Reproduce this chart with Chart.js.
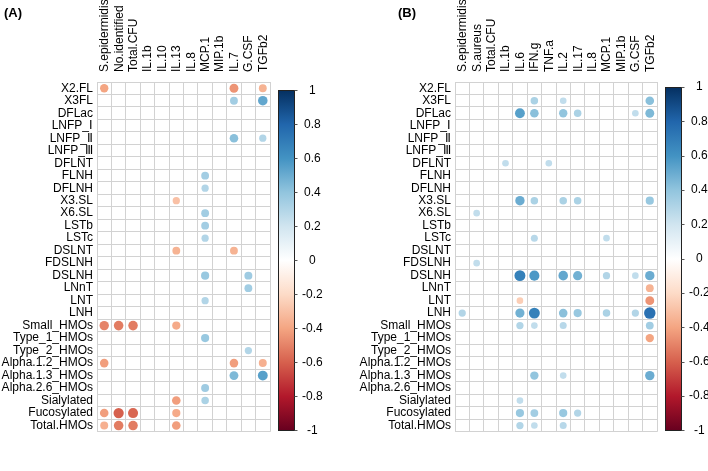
<!DOCTYPE html>
<html>
<head>
<meta charset="utf-8">
<script src="https://cdn.jsdelivr.net/npm/chart.js@4.4.1/dist/chart.umd.min.js"></script>
<style>
  body { margin: 0; background: #fff; }
  #wrap { position: relative; width: 708px; height: 471px; overflow: hidden; }
  .panel { position: absolute; top: 0; width: 354px; height: 471px; }
  .tag { position: absolute; top: 5px; font: bold 13px Arial, "Liberation Sans", sans-serif; color: #000; }
</style>
</head>
<body>
<div id="wrap">
  <div class="panel" style="left:0"><canvas id="chartA" width="354" height="471"></canvas></div>
  <div class="panel" style="left:354px"><canvas id="chartB" width="354" height="471"></canvas></div>
  <div class="tag" style="left:4px">(A)</div>
  <div class="tag" style="left:398px">(B)</div>
</div>
<script>
// rows shared by both panels (HMOs)
const rowLabels = ['X2.FL', 'X3FL', 'DFLac', 'LNFP_Ⅰ', 'LNFP_Ⅱ', 'LNFP_Ⅲ', 'DFLNT', 'FLNH', 'DFLNH',
    'X3.SL', 'X6.SL', 'LSTb', 'LSTc', 'DSLNT', 'FDSLNH', 'DSLNH', 'LNnT', 'LNT', 'LNH',
    'Small_HMOs', 'Type_1_HMOs', 'Type_2_HMOs', 'Alpha.1.2_HMOs', 'Alpha.1.3_HMOs',
    'Alpha.2.6_HMOs', 'Sialylated', 'Fucosylated', 'Total.HMOs'];

const colsA = ['S.epidermidis', 'No.identified', 'Total.CFU', 'IL.1b', 'IL.10', 'IL.13', 'IL.8',
    'MCP.1', 'MIP.1b', 'IL.7', 'G.CSF', 'TGFb2'];
const colsB = ['S.epidermidis', 'S.aureus', 'Total.CFU', 'IL.1b', 'IL.6', 'IFN.g', 'TNF.a', 'IL.2',
    'IL.17', 'IL.8', 'MCP.1', 'MIP.1b', 'G.CSF', 'TGFb2'];

// significant correlations only: [row, column, r]
const corrA = [
    ['X2.FL', 'S.epidermidis', -0.40], ['X2.FL', 'IL.7', -0.45], ['X2.FL', 'TGFb2', -0.35],
    ['X3FL', 'IL.7', 0.35], ['X3FL', 'TGFb2', 0.52],
    ['LNFP_Ⅱ', 'IL.7', 0.42], ['LNFP_Ⅱ', 'TGFb2', 0.30],
    ['FLNH', 'MCP.1', 0.35], ['DFLNH', 'MCP.1', 0.30],
    ['X3.SL', 'IL.13', -0.30],
    ['X6.SL', 'MCP.1', 0.35], ['LSTb', 'MCP.1', 0.35], ['LSTc', 'MCP.1', 0.30],
    ['DSLNT', 'IL.13', -0.35], ['DSLNT', 'IL.7', -0.35],
    ['DSLNH', 'MCP.1', 0.38], ['DSLNH', 'G.CSF', 0.36],
    ['LNnT', 'G.CSF', 0.35],
    ['LNT', 'MCP.1', 0.30],
    ['Small_HMOs', 'S.epidermidis', -0.50], ['Small_HMOs', 'No.identified', -0.52],
    ['Small_HMOs', 'Total.CFU', -0.52], ['Small_HMOs', 'IL.13', -0.38],
    ['Type_1_HMOs', 'MCP.1', 0.38],
    ['Type_2_HMOs', 'G.CSF', 0.30],
    ['Alpha.1.2_HMOs', 'S.epidermidis', -0.42], ['Alpha.1.2_HMOs', 'IL.7', -0.42], ['Alpha.1.2_HMOs', 'TGFb2', -0.36],
    ['Alpha.1.3_HMOs', 'IL.7', 0.45], ['Alpha.1.3_HMOs', 'TGFb2', 0.55],
    ['Alpha.2.6_HMOs', 'MCP.1', 0.36],
    ['Sialylated', 'IL.13', -0.42], ['Sialylated', 'MCP.1', 0.32],
    ['Fucosylated', 'S.epidermidis', -0.42], ['Fucosylated', 'No.identified', -0.60],
    ['Fucosylated', 'Total.CFU', -0.58], ['Fucosylated', 'IL.13', -0.38],
    ['Total.HMOs', 'S.epidermidis', -0.36], ['Total.HMOs', 'No.identified', -0.52],
    ['Total.HMOs', 'Total.CFU', -0.52], ['Total.HMOs', 'IL.13', -0.42]
];

const corrB = [
    ['X3FL', 'IFN.g', 0.32], ['X3FL', 'IL.2', 0.25], ['X3FL', 'TGFb2', 0.42],
    ['DFLac', 'IL.6', 0.55], ['DFLac', 'IFN.g', 0.42], ['DFLac', 'IL.2', 0.40], ['DFLac', 'IL.17', 0.32],
    ['DFLac', 'G.CSF', 0.25], ['DFLac', 'TGFb2', 0.45],
    ['DFLNT', 'IL.1b', 0.25], ['DFLNT', 'TNF.a', 0.25],
    ['X3.SL', 'IL.6', 0.50], ['X3.SL', 'IFN.g', 0.32], ['X3.SL', 'IL.2', 0.32], ['X3.SL', 'IL.17', 0.32],
    ['X3.SL', 'TGFb2', 0.38],
    ['X6.SL', 'S.aureus', 0.25],
    ['LSTc', 'IFN.g', 0.28], ['LSTc', 'MCP.1', 0.25],
    ['FDSLNH', 'S.aureus', 0.25],
    ['DSLNH', 'IL.6', 0.68], ['DSLNH', 'IFN.g', 0.58], ['DSLNH', 'IL.2', 0.52], ['DSLNH', 'IL.17', 0.48],
    ['DSLNH', 'MCP.1', 0.30], ['DSLNH', 'G.CSF', 0.25], ['DSLNH', 'TGFb2', 0.50],
    ['LNnT', 'TGFb2', -0.35],
    ['LNT', 'IL.6', -0.25], ['LNT', 'TGFb2', -0.45],
    ['LNH', 'S.epidermidis', 0.30], ['LNH', 'IL.6', 0.48], ['LNH', 'IFN.g', 0.68], ['LNH', 'IL.2', 0.42],
    ['LNH', 'IL.17', 0.38], ['LNH', 'MCP.1', 0.32], ['LNH', 'G.CSF', 0.30], ['LNH', 'TGFb2', 0.75],
    ['Small_HMOs', 'IL.6', 0.30], ['Small_HMOs', 'IFN.g', 0.25], ['Small_HMOs', 'IL.2', 0.28],
    ['Small_HMOs', 'TGFb2', 0.35],
    ['Type_1_HMOs', 'TGFb2', -0.40],
    ['Alpha.1.3_HMOs', 'IFN.g', 0.40], ['Alpha.1.3_HMOs', 'IL.2', 0.25], ['Alpha.1.3_HMOs', 'TGFb2', 0.50],
    ['Sialylated', 'IL.6', 0.25],
    ['Fucosylated', 'IL.6', 0.38], ['Fucosylated', 'IFN.g', 0.35], ['Fucosylated', 'IL.2', 0.38],
    ['Fucosylated', 'IL.17', 0.30],
    ['Total.HMOs', 'IL.6', 0.30], ['Total.HMOs', 'IFN.g', 0.25], ['Total.HMOs', 'IL.2', 0.28]
];

const colorBarTicks = [1, 0.8, 0.6, 0.4, 0.2, 0, -0.2, -0.4, -0.6, -0.8, -1];

// RdBu palette, -1 -> 1
const palette = ['#67001F', '#B2182B', '#D6604D', '#F4A582', '#FDDBC7', '#FFFFFF',
    '#D1E5F0', '#92C5DE', '#4393C3', '#2166AC', '#053061'];

function hexToRgb(h) {
    return [parseInt(h.slice(1, 3), 16), parseInt(h.slice(3, 5), 16), parseInt(h.slice(5, 7), 16)];
}

function corrColor(r) {
    const t = (Math.max(-1, Math.min(1, r)) + 1) / 2 * (palette.length - 1);
    const i = Math.min(Math.floor(t), palette.length - 2);
    const f = t - i;
    const a = hexToRgb(palette[i]), b = hexToRgb(palette[i + 1]);
    const c = a.map((v, k) => Math.round(v + (b[k] - v) * f));
    return 'rgb(' + c.join(',') + ')';
}

Chart.defaults.font.family = 'Arial, "Liberation Sans", sans-serif';
Chart.defaults.font.size = 12;
Chart.defaults.color = '#000';

const gridColor = '#d2d2d2';

// draws the gradient legend along the 'cb' scale
const colorBar = {
    id: 'colorBar',
    afterDraw(chart) {
        const s = chart.scales.cb;
        const ctx = chart.ctx;
        const x0 = Math.round(s.left) + 8.5;
        const w = 16;
        const top = Math.round(s.getPixelForValue(1)) + 0.5;
        const bottom = Math.round(s.getPixelForValue(-1)) + 0.5;
        const g = ctx.createLinearGradient(0, bottom, 0, top);
        palette.forEach((c, i) => g.addColorStop(i / (palette.length - 1), c));
        ctx.save();
        ctx.fillStyle = g;
        ctx.fillRect(x0, top, w, bottom - top);
        ctx.strokeStyle = '#222';
        ctx.lineWidth = 1;
        ctx.strokeRect(x0, top, w, bottom - top);
        ctx.strokeStyle = '#555';
        colorBarTicks.forEach(v => {
            const y = Math.round(s.getPixelForValue(v)) + 0.5;
            ctx.beginPath();
            ctx.moveTo(x0 + w, y);
            ctx.lineTo(x0 + w + 3, y);
            ctx.stroke();
        });
        ctx.restore();
    }
};

// circle radius follows corrplot: 0.9 * sqrt(|r|) / 2 of a cell width
function cellRadius(ctx) {
    if (!ctx.raw) return 0;
    const sx = ctx.chart.scales.x;
    const cell = Math.abs(sx.getPixelForValue(1) - sx.getPixelForValue(0));
    return isFinite(cell) ? 0.46 * Math.sqrt(Math.abs(ctx.raw.v)) * cell : 0;
}

function buildChart(id, cols, corr, leftWidth, cbWidth, cbMax) {
    const points = corr.map(([row, col, r]) => ({ x: col, y: row, v: r }));
    return new Chart(document.getElementById(id), {
        type: 'scatter',
        data: {
            datasets: [{
                xAxisID: 'x',
                yAxisID: 'y',
                data: points,
                pointBackgroundColor: points.map(p => corrColor(p.v)),
                pointBorderWidth: 0,
                pointRadius: cellRadius
            }]
        },
        options: {
            responsive: false,
            animation: false,
            events: [],
            layout: { padding: { top: 0, bottom: 3, left: 0, right: 0 } },
            plugins: { legend: { display: false }, tooltip: { enabled: false } },
            scales: {
                x: {
                    type: 'category',
                    labels: cols,
                    position: 'top',
                    offset: true,
                    grid: { offset: true, color: gridColor, drawTicks: false },
                    border: { color: gridColor },
                    ticks: { minRotation: 90, maxRotation: 90, padding: 10, labelOffset: 15, autoSkip: false },
                    afterFit: s => { s.height = 82; }
                },
                y: {
                    type: 'category',
                    labels: rowLabels,
                    offset: true,
                    grid: { offset: true, color: gridColor, drawTicks: false },
                    border: { color: gridColor },
                    ticks: { padding: 4, autoSkip: false },
                    afterFit: s => { s.width = leftWidth; }
                },
                cb: {
                    type: 'linear',
                    axis: 'y',
                    position: 'right',
                    min: -1.009,
                    max: cbMax,
                    grid: { display: false, drawTicks: false },
                    border: { display: false },
                    afterBuildTicks: s => { s.ticks = colorBarTicks.map(v => ({ value: v })); },
                    ticks: { crossAlign: 'center', padding: 32, callback: v => String(v) },
                    afterFit: s => { s.width = cbWidth; }
                }
            }
        },
        plugins: [colorBar]
    });
}

buildChart('chartA', colsA, corrA, 97, 84, 1.05);
buildChart('chartB', colsB, corrB, 101, 51, 1.03);
</script>
</body>
</html>
